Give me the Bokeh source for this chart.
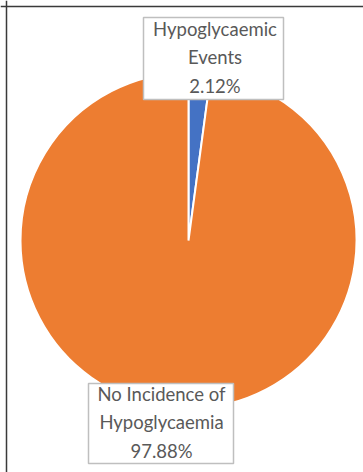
import math
from bokeh.plotting import figure
from bokeh.models import Range1d, Span, ColumnDataSource
from bokeh.core.properties import value
from bokeh.embed import file_html
from bokeh.resources import INLINE

# Data
categories = ["Hypoglycaemic Events", "No Incidence of Hypoglycaemia"]
label_lines = ["Hypoglycaemic\nEvents", "No Incidence of\nHypoglycaemia"]
percentages = [2.12, 97.88]
colors = ["#4472C4", "#ED7D31"]

W, H = 363, 472
p = figure(width=W, height=H, output_backend="svg", toolbar_location=None,
           x_range=Range1d(0, W), y_range=Range1d(0, H), min_border=0)
p.axis.visible = False
p.grid.visible = False
p.outline_line_color = None
p.background_fill_color = "white"
p.border_fill_color = "white"

# Outer frame lines (left and top)
p.add_layout(Span(location=6, dimension="height", line_color="#3a3a3a", line_width=1.5))
p.add_layout(Span(location=H - 6, dimension="width", line_color="#3a3a3a", line_width=1.5))

# Pie: first slice starts at 12 o'clock going clockwise
cx, cy = 188, H - 240
total = sum(percentages)
starts, ends = [], []
cum = 0.0
for v in percentages:
    a0 = math.pi / 2 - 2 * math.pi * (cum + v) / total
    a1 = math.pi / 2 - 2 * math.pi * cum / total
    starts.append(a0)
    ends.append(a1)
    cum += v
src = ColumnDataSource(dict(x=[cx] * 2, y=[cy] * 2, start=starts, end=ends, color=colors))
p.wedge(x="x", y="y", radius=168, radius_units="screen", start_angle="start", end_angle="end",
        fill_color="color", line_color="white", line_width=2, source=src)

# Data labels
box_x = [213, 160.5]
box_y = [H - 58, H - 423]
box_w = [140, 145]
box_h = [82, 80]
texts = [f"{l}\n{v:.2f}%" for l, v in zip(label_lines, percentages)]
p.rect(x=box_x, y=box_y, width=box_w, height=box_h, fill_color="white",
       line_color="#BFBFBF", line_width=1.5)
tx = [214.5, 161]
p.text(x=tx, y=[y + 1 for y in box_y], text=texts, text_align="center", text_baseline="middle",
       text_font=value("Lato"), text_font_size="18.5px", text_color="#595959",
       text_line_height=1.3)

open("out.html", "w").write(file_html(p, INLINE))
